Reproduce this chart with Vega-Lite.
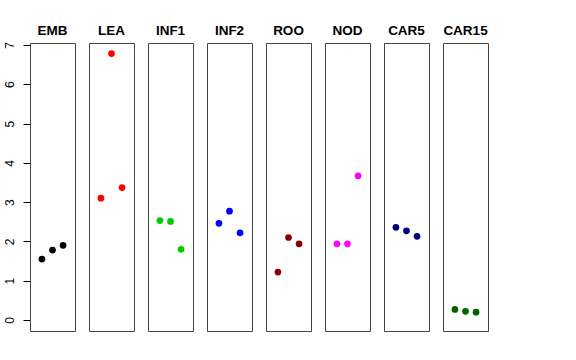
{
  "$schema": "https://vega.github.io/schema/vega-lite/v6.json",
  "padding": {"left": 2, "top": 23, "right": 5, "bottom": 5},
  "background": "white",
  "data": {"values": [
    {"group": "EMB", "idx": 1, "value": 1.55},
    {"group": "EMB", "idx": 2, "value": 1.78},
    {"group": "EMB", "idx": 3, "value": 1.90},
    {"group": "LEA", "idx": 1, "value": 3.10},
    {"group": "LEA", "idx": 2, "value": 6.78},
    {"group": "LEA", "idx": 3, "value": 3.37},
    {"group": "INF1", "idx": 1, "value": 2.53},
    {"group": "INF1", "idx": 2, "value": 2.51},
    {"group": "INF1", "idx": 3, "value": 1.80},
    {"group": "INF2", "idx": 1, "value": 2.46},
    {"group": "INF2", "idx": 2, "value": 2.77},
    {"group": "INF2", "idx": 3, "value": 2.22},
    {"group": "ROO", "idx": 1, "value": 1.22},
    {"group": "ROO", "idx": 2, "value": 2.10},
    {"group": "ROO", "idx": 3, "value": 1.94},
    {"group": "NOD", "idx": 1, "value": 1.94},
    {"group": "NOD", "idx": 2, "value": 1.94},
    {"group": "NOD", "idx": 3, "value": 3.67},
    {"group": "CAR5", "idx": 1, "value": 2.36},
    {"group": "CAR5", "idx": 2, "value": 2.27},
    {"group": "CAR5", "idx": 3, "value": 2.13},
    {"group": "CAR15", "idx": 1, "value": 0.27},
    {"group": "CAR15", "idx": 2, "value": 0.22},
    {"group": "CAR15", "idx": 3, "value": 0.20}
  ]},
  "facet": {
    "column": {
      "field": "group",
      "type": "nominal",
      "sort": ["EMB", "LEA", "INF1", "INF2", "ROO", "NOD", "CAR5", "CAR15"],
      "title": null,
      "header": {
        "labelFont": "Liberation Sans",
        "labelFontSize": 13.5,
        "labelFontWeight": "bold",
        "labelColor": "black",
        "labelPadding": 6
      }
    }
  },
  "spacing": 14,
  "bounds": "flush",
  "spec": {
    "width": 45,
    "height": 288,
    "mark": {"type": "point", "filled": true, "opacity": 1, "size": 45},
    "encoding": {
      "x": {
        "field": "idx",
        "type": "quantitative",
        "scale": {"domain": [-0.13, 4.13], "nice": false, "zero": false},
        "axis": null
      },
      "y": {
        "field": "value",
        "type": "quantitative",
        "scale": {"domain": [-0.28, 7.05], "nice": false, "zero": false},
        "axis": {
          "title": null,
          "values": [0, 1, 2, 3, 4, 5, 6, 7],
          "grid": false,
          "domain": false,
          "tickSize": 7,
          "tickColor": "black",
          "labelAngle": 270,
          "labelAlign": "center",
          "labelBaseline": "bottom",
          "labelPadding": 7,
          "labelFont": "Liberation Sans",
          "labelFontSize": 12,
          "labelColor": "black"
        }
      },
      "color": {
        "field": "group",
        "type": "nominal",
        "scale": {
          "domain": ["EMB", "LEA", "INF1", "INF2", "ROO", "NOD", "CAR5", "CAR15"],
          "range": ["#000000", "#FF0000", "#00CD00", "#0000FF", "#8B0000", "#FF00FF", "#000080", "#006400"]
        },
        "legend": null
      }
    }
  },
  "config": {
    "view": {"stroke": "#444444", "strokeWidth": 1}
  }
}
